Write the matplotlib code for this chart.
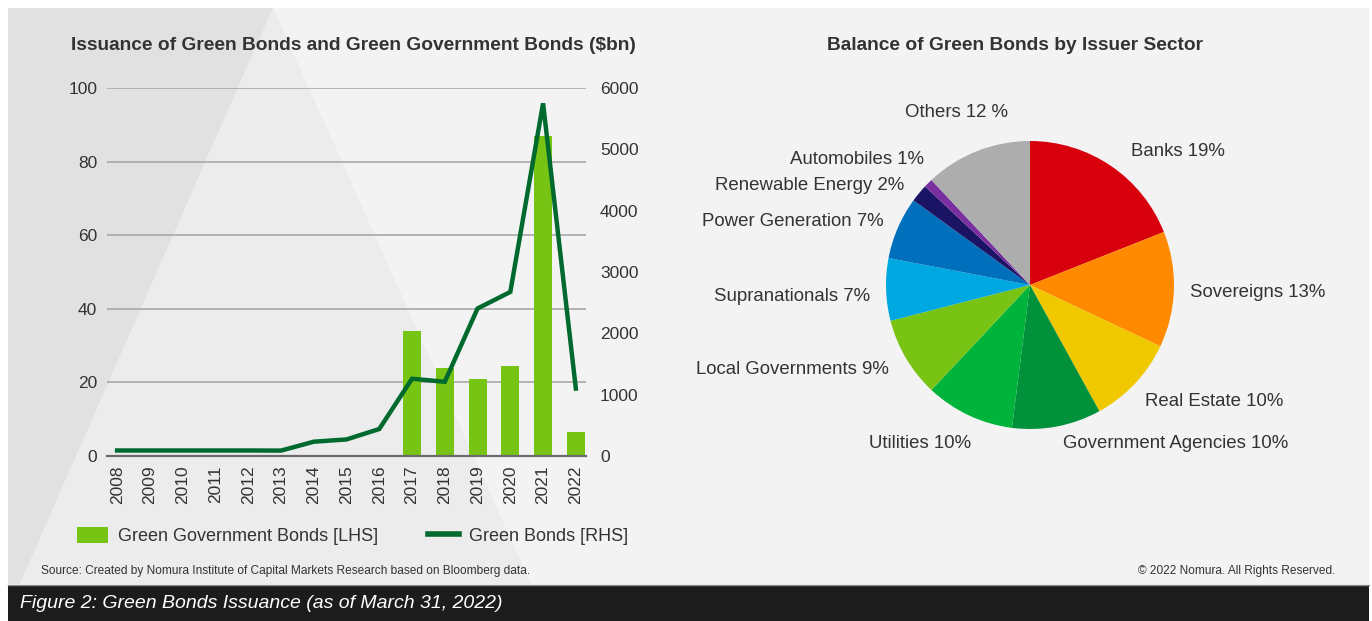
import matplotlib
matplotlib.use("Agg")
import matplotlib.pyplot as plt
from matplotlib import font_manager
from matplotlib.patches import Polygon, Rectangle, Patch
from matplotlib.lines import Line2D
import numpy as np

# data
years = ["2008", "2009", "2010", "2011", "2012", "2013", "2014", "2015",
         "2016", "2017", "2018", "2019", "2020", "2021", "2022"]
gov_bonds = [0, 0, 0, 0, 0, 0, 0, 0, 0, 34.0, 23.9, 20.9, 24.5, 87.0, 6.5]
green_bonds = [90, 90, 90, 90, 90, 88, 233, 270, 440, 1260, 1210, 2405, 2675, 5750, 1100]

sectors = ["Banks 19%", "Sovereigns 13%", "Real Estate 10%", "Government Agencies 10%",
           "Utilities 10%", "Local Governments 9%", "Supranationals 7%",
           "Power Generation 7%", "Renewable Energy 2%", "Automobiles 1%", "Others 12 %"]
shares = [19, 13, 10, 10, 10, 9, 7, 7, 2, 1, 12]
pie_colors = ["#d9000d", "#ff8a00", "#f0c800", "#00913a", "#00b33a", "#78c314",
              "#00a8e1", "#006fbc", "#1b1464", "#7a2fa0", "#adadad"]

W, H = 1372, 621


def pick(name, fallback="Liberation Sans"):
    try:
        font_manager.findfont(name, fallback_to_default=False)
        return name
    except Exception:
        return fallback


FONT = "Liberation Sans"
NARROW = pick("Liberation Sans Narrow")
plt.rcParams["font.family"] = FONT
TXT = "#333333"

fig = plt.figure(figsize=(W / 100, H / 100), dpi=100, facecolor="white")

# background panel with the faint triangles
bg = fig.add_axes([0, 0, 1, 1], zorder=-10)
bg.set_xlim(0, W)
bg.set_ylim(H, 0)
bg.axis("off")
bg.add_patch(Rectangle((8, 8), 1361, 576, color="#f3f3f3", lw=0))
bg.add_patch(Polygon([(8, 8), (273, 8), (20, 584), (8, 584)], color="#e1e1e1", lw=0))
bg.add_patch(Polygon([(273, 8), (20, 584), (531, 584)], color="#ececec", lw=0))
bg.add_patch(Rectangle((8, 585), 1361, 36, color="#1c1c1c", lw=0))
bg.plot([8, 1369], [584.5, 584.5], color="#8a8a8a", lw=1)


def fx(px):
    return px / W


def fy(py):
    return 1 - py / H


# ---- left chart: bars + line on twin axes
ax = fig.add_axes([fx(107), fy(456), fx(586) - fx(107), fy(88) - fy(456)])
ax.set_facecolor("none")
x = np.arange(len(years))
ax.bar(x, gov_bonds, width=0.55, color="#77c414", zorder=3)
ax.set_ylim(0, 100)
ax.set_xlim(-0.31, 14.31)
ax.set_yticks([0, 20, 40, 60, 80, 100])
ax.set_xticks(x)
ax.set_xticklabels(years, rotation=90)
ax.yaxis.grid(True, color="#a8a8a8", lw=1.2)
ax.set_axisbelow(True)
for s in ["top", "right", "left"]:
    ax.spines[s].set_visible(False)
ax.spines["bottom"].set_color("#6b6b6b")
ax.spines["bottom"].set_linewidth(1.6)
ax.spines["bottom"].set_zorder(4)
ax.tick_params(length=0, labelsize=12.5, labelcolor=TXT)
ax.tick_params(axis="y", pad=7)
ax.tick_params(axis="x", pad=7)

ax2 = ax.twinx()
ax2.plot(x, green_bonds, color="#006a2e", lw=3.2, solid_joinstyle="miter", zorder=5)
ax2.set_ylim(0, 6000)
ax2.set_yticks([0, 1000, 2000, 3000, 4000, 5000, 6000])
for s in ax2.spines.values():
    s.set_visible(False)
ax2.tick_params(length=0, labelsize=12.5, labelcolor=TXT, pad=10)

fig.text(fx(353), fy(45), "Issuance of Green Bonds and Green Government Bonds ($bn)",
         ha="center", va="center", fontsize=13.8, fontweight="bold", color=TXT)

handles = [Patch(facecolor="#77c414", edgecolor="none"),
           Line2D([0], [0], color="#006a2e", lw=4)]
fig.legend(handles, ["Green Government Bonds [LHS]", "Green Bonds [RHS]"],
           loc="center left", bbox_to_anchor=(fx(77), fy(536)), ncol=2,
           frameon=False, fontsize=13, handlelength=1.72, handleheight=1.0,
           handletextpad=0.55, columnspacing=2.75, borderpad=0, borderaxespad=0,
           labelcolor=TXT)

# ---- right chart: pie
pax = fig.add_axes([fx(886), fy(429), fx(1174) - fx(886), fy(141) - fy(429)])
pax.pie(shares, colors=pie_colors, startangle=90, counterclock=False,
        wedgeprops=dict(linewidth=0))
pax.set_xlim(-1, 1)
pax.set_ylim(-1, 1)
pax.set_aspect("equal")

label_pos = [(1.03, 0.93), (1.58, -0.05), (1.28, -0.81), (1.01, -1.10),
             (-0.76, -1.10), (-1.65, -0.59), (-1.65, -0.08), (-1.65, 0.44),
             (-1.53, 0.69), (-1.20, 0.87), (-0.51, 1.20)]
for lab, (lx, ly) in zip(sectors, label_pos):
    pax.text(lx, ly, lab, ha="center", va="center", fontsize=13.4, color=TXT,
             clip_on=False)

fig.text(fx(1015), fy(45), "Balance of Green Bonds by Issuer Sector",
         ha="center", va="center", fontsize=13.8, fontweight="bold", color=TXT)

# ---- notes and caption
fig.text(fx(41), fy(571), "Source: Created by Nomura Institute of Capital Markets Research based on Bloomberg data.",
         ha="left", va="center", fontsize=8.6, color=TXT)
fig.text(fx(1335), fy(571), "\u00a9 2022 Nomura. All Rights Reserved.",
         ha="right", va="center", fontsize=8.6, color=TXT)
fig.text(fx(20), fy(604), "Figure 2: Green Bonds Issuance (as of March 31, 2022)",
         ha="left", va="center", fontsize=16 if NARROW != FONT else 14,
         style="italic", color="white", family=NARROW)

fig.savefig("out.png", dpi=100, facecolor="white")
